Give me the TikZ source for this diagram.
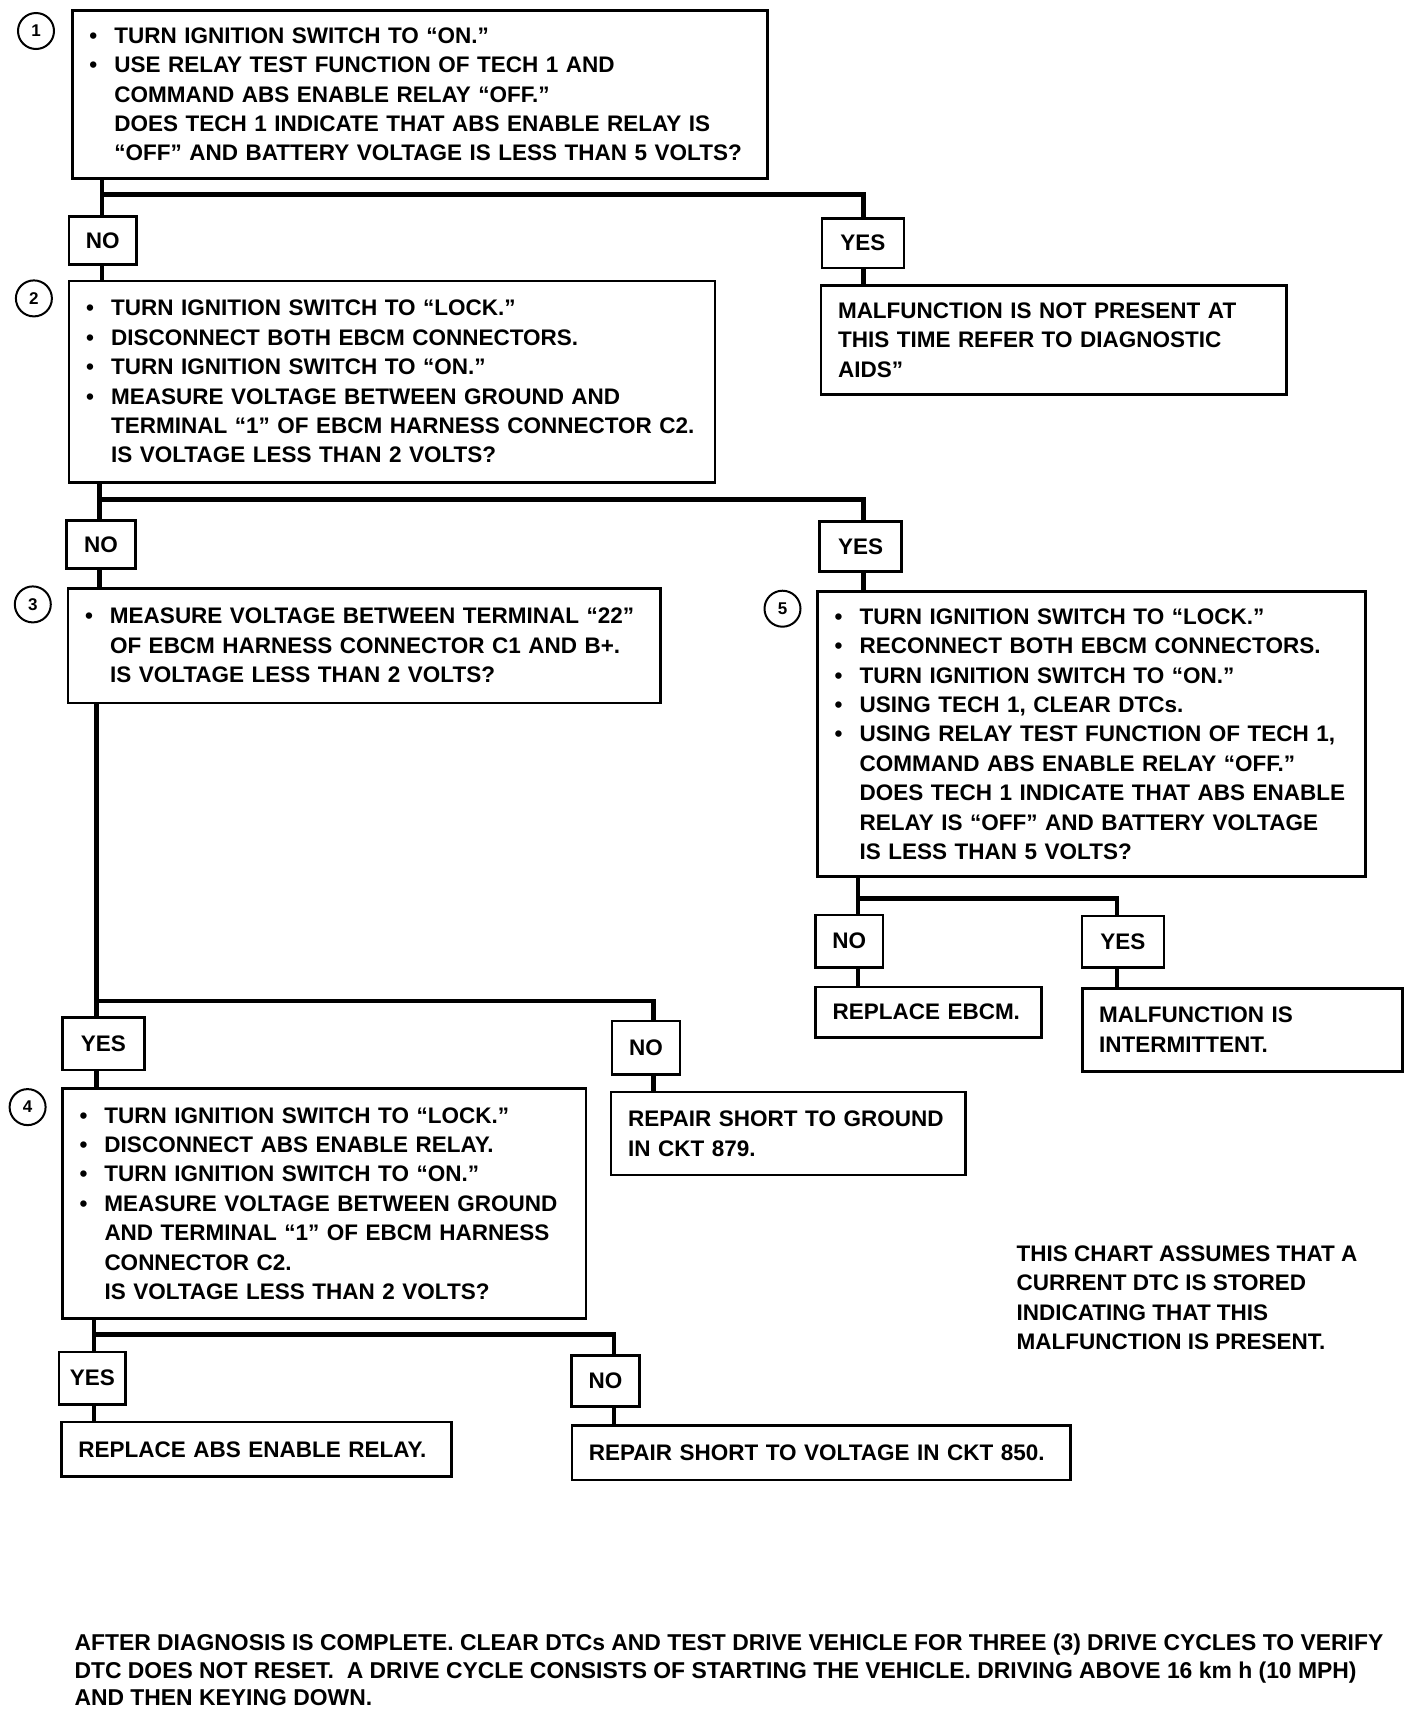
\documentclass[tikz,border=0pt]{standalone}
\usepackage{fontspec}
\setmainfont{Liberation Sans}
\newcommand\fs{\fontsize{22.5}{29.4}\selectfont\bfseries}
\newcommand\fnfs{\fontsize{22.9}{27.8}\selectfont\bfseries}
\newcommand\numfs{\fontsize{17}{17}\selectfont\bfseries}
\newcommand\bul{\makebox[25pt][l]{\textbullet}}
\newcommand\ind{\hspace*{25pt}}
\tikzset{
  box/.style={draw, line width=2.6pt, rectangle, anchor=north west, inner xsep=17pt, inner ysep=0pt, align=left, font=\fs},
  lab/.style={draw, line width=2.6pt, rectangle, inner sep=0pt, font=\fs},
  conn/.style={line width=4.2pt, line join=miter},
  num/.style={draw, circle, line width=2pt, minimum size=36pt, inner sep=0pt, font=\numfs},
  txt/.style={anchor=north west, inner sep=0pt, align=left}
}
\begin{document}
\begin{tikzpicture}[x=1pt,y=-1pt]
\useasboundingbox (0,0) rectangle (1424,1714);
\fill[white] (0,0) rectangle (1424,1714);

% step numbers
\node[num] (c1) at (36,31) {1};
\node[num] (c2) at (33.9,298.4) {2};
\node[num] (c3) at (32.8,604.4) {3};
\node[num] (c5) at (782.5,608.7) {5};
\node[num] (c4) at (27.6,1107.1) {4};

% main boxes
\node[box, minimum height=168, text width=661] (b1) at (71,9)
 {\bul TURN IGNITION SWITCH TO ``ON.''\\
  \bul USE RELAY TEST FUNCTION OF TECH 1 AND\\
  \ind COMMAND ABS ENABLE RELAY ``OFF.''\\
  \ind DOES TECH 1 INDICATE THAT ABS ENABLE RELAY IS\\
  \ind ``OFF'' AND BATTERY VOLTAGE IS LESS THAN 5 VOLTS?};

\node[box, minimum height=109.2, text width=431.6] (m1) at (819.7,284.2)
 {MALFUNCTION IS NOT PRESENT AT\\
  THIS TIME REFER TO DIAGNOSTIC\\
  AIDS''};

\node[box, minimum height=201.1, text width=611.9] (b2) at (67.8,279.8)
 {\bul TURN IGNITION SWITCH TO ``LOCK.''\\
  \bul DISCONNECT BOTH EBCM CONNECTORS.\\
  \bul TURN IGNITION SWITCH TO ``ON.''\\
  \bul MEASURE VOLTAGE BETWEEN GROUND AND\\
  \ind TERMINAL ``1'' OF EBCM HARNESS CONNECTOR C2.\\
  \ind IS VOLTAGE LESS THAN 2 VOLTS?};

\node[box, minimum height=114.7, text width=558.3] (b3) at (66.7,586.9)
 {\bul MEASURE VOLTAGE BETWEEN TERMINAL ``22''\\
  \ind OF EBCM HARNESS CONNECTOR C1 AND B+.\\
  \ind IS VOLTAGE LESS THAN 2 VOLTS?};

\node[box, minimum height=285.2, text width=513.5] (b5) at (816.4,590.2)
 {\bul TURN IGNITION SWITCH TO ``LOCK.''\\
  \bul RECONNECT BOTH EBCM CONNECTORS.\\
  \bul TURN IGNITION SWITCH TO ``ON.''\\
  \bul USING TECH 1, CLEAR DTCs.\\
  \bul USING RELAY TEST FUNCTION OF TECH 1,\\
  \ind COMMAND ABS ENABLE RELAY ``OFF.''\\
  \ind DOES TECH 1 INDICATE THAT ABS ENABLE\\
  \ind RELAY IS ``OFF'' AND BATTERY VOLTAGE\\
  \ind IS LESS THAN 5 VOLTS?};

\node[box, minimum height=50.2, text width=192.2] (r5) at (814.2,985.8)
 {REPLACE EBCM.};

\node[box, minimum height=83.1, text width=286.2] (i5) at (1080.9,986.9)
 {MALFUNCTION IS\\ INTERMITTENT.};

\node[box, minimum height=83.1, text width=320.1] (g3) at (609.8,1090.7)
 {REPAIR SHORT TO GROUND\\ IN CKT 879.};

\node[box, minimum height=229.6, text width=489.5] (b4) at (61.2,1087.4)
 {\bul TURN IGNITION SWITCH TO ``LOCK.''\\
  \bul DISCONNECT ABS ENABLE RELAY.\\
  \bul TURN IGNITION SWITCH TO ``ON.''\\
  \bul MEASURE VOLTAGE BETWEEN GROUND\\
  \ind AND TERMINAL ``1'' OF EBCM HARNESS\\
  \ind CONNECTOR C2.\\
  \ind IS VOLTAGE LESS THAN 2 VOLTS?};

\node[box, minimum height=54.6, text width=356.2] (ra) at (60.1,1420.8)
 {REPLACE ABS ENABLE RELAY.};

\node[box, minimum height=54.7, text width=464.4] (rv) at (570.5,1424)
 {REPAIR SHORT TO VOLTAGE IN CKT 850.};

% yes / no labels
\node[lab, minimum width=67.7, minimum height=48.1] (n1) at (102.75,240.45) {NO};
\node[lab, minimum width=81.9, minimum height=49.2] (y1) at (862.85,243.2) {YES};
\node[lab, minimum width=68.8, minimum height=48.1] (n2) at (101.1,544.25) {NO};
\node[lab, minimum width=81.9, minimum height=50.3] (y2) at (860.65,546.45) {YES};
\node[lab, minimum width=67.8, minimum height=52.4] (n5) at (849.2,941) {NO};
\node[lab, minimum width=81.9, minimum height=51.3] (y5) at (1122.95,941.55) {YES};
\node[lab, minimum width=82, minimum height=52.5] (y3) at (103.3,1043.75) {YES};
\node[lab, minimum width=67.8, minimum height=53.5] (n3) at (645.9,1047.55) {NO};
\node[lab, minimum width=66.7, minimum height=52.5] (y4) at (92.35,1378.15) {YES};
\node[lab, minimum width=67.7, minimum height=51.4] (n4) at (605.45,1380.9) {NO};

% junctions
\coordinate (j1) at (101.6,194.5);  \coordinate (k1) at (863.4,194.5);
\coordinate (j2) at (99.5,499.5);   \coordinate (k2) at (863.4,499.5);
\coordinate (j5) at (857.9,898.4);  \coordinate (k5) at (1117,898.4);
\coordinate (j3) at (96.5,1001.1);  \coordinate (k3) at (653.4,1001.1);
\coordinate (j4) at (94.2,1334.4);  \coordinate (k4) at (614.2,1334.4);

% connectors
\draw[conn] (b1.south -| j1) -- (n1.north -| j1);
\draw[conn] (j1) -- (k1) -- (y1.north -| k1);
\draw[conn] (n1.south -| j1) -- (b2.north -| j1);
\draw[conn] (y1.south -| k1) -- (m1.north -| k1);

\draw[conn] (b2.south -| j2) -- (n2.north -| j2);
\draw[conn] (j2) -- (k2) -- (y2.north -| k2);
\draw[conn] (n2.south -| j2) -- (b3.north -| j2);
\draw[conn] (y2.south -| k2) -- (b5.north -| k2);

\draw[conn] (b5.south -| j5) -- (n5.north -| j5);
\draw[conn] (j5) -- (k5) -- (y5.north -| k5);
\draw[conn] (n5.south -| j5) -- (r5.north -| j5);
\draw[conn] (y5.south -| k5) -- (i5.north -| k5);

\draw[conn] (b3.south -| j3) -- (y3.north -| j3);
\draw[conn] (j3) -- (k3) -- (n3.north -| k3);
\draw[conn] (y3.south -| j3) -- (b4.north -| j3);
\draw[conn] (n3.south -| k3) -- (g3.north -| k3);

\draw[conn] (b4.south -| j4) -- (y4.north -| j4);
\draw[conn] (j4) -- (k4) -- (n4.north -| k4);
\draw[conn] (y4.south -| j4) -- (ra.north -| j4);
\draw[conn] (n4.south -| k4) -- (rv.north -| k4);

% notes
\node[txt, font=\fs] (note) at (1016.4,1245.5)
 {THIS CHART ASSUMES THAT A\\
  CURRENT DTC IS STORED\\
  INDICATING THAT THIS\\
  MALFUNCTION IS PRESENT.};

\node[txt, font=\fnfs] (foot) at (74.3,1633.4)
 {AFTER DIAGNOSIS IS COMPLETE. CLEAR DTCs AND TEST DRIVE VEHICLE FOR THREE (3) DRIVE CYCLES TO VERIFY\\
  DTC DOES NOT RESET.\ \ A DRIVE CYCLE CONSISTS OF STARTING THE VEHICLE. DRIVING ABOVE 16 km h (10 MPH)\\
  AND THEN KEYING DOWN.};
\end{tikzpicture}
\end{document}
